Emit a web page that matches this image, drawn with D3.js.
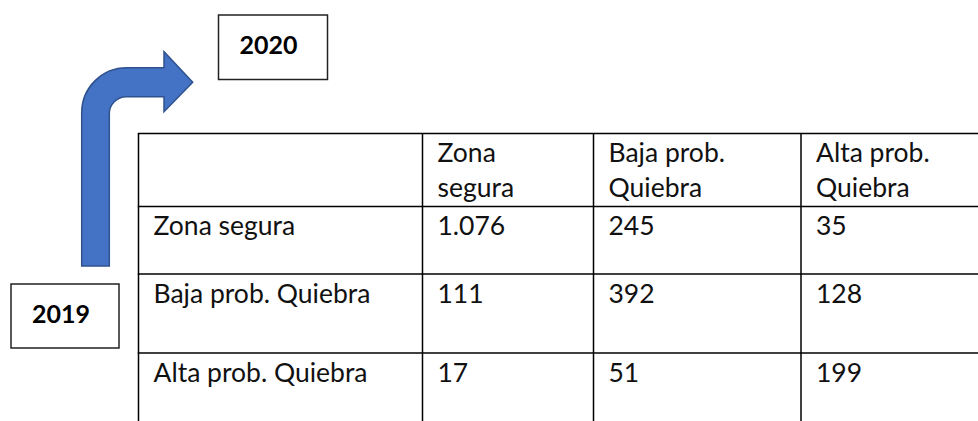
<!DOCTYPE html>
<html>
<head>
  <meta charset='utf-8'>
  <title>Matriz de transicion 2019-2020</title>
  <script src="https://cdnjs.cloudflare.com/ajax/libs/d3/7.8.5/d3.min.js"></script>
  <style>
    html, body { margin: 0; padding: 0; background: #fff; }
    svg { display: block; font-family: Lato, 'Open Sans', sans-serif; }
  </style>
</head>
<body>
<script>
// data
var fromYear = '2019';
var toYear = '2020';
var colHeaders = [['Zona', 'segura'], ['Baja prob.', 'Quiebra'], ['Alta prob.', 'Quiebra']];
var rowLabels = ['Zona segura', 'Baja prob. Quiebra', 'Alta prob. Quiebra'];
var zonaSegura = [1076, 245, 35];
var bajaProb = [111, 392, 128];
var altaProb = [17, 51, 199];
var values = [zonaSegura, bajaProb, altaProb];

var width = 978, height = 421;
var fontSize = 26.5, boldSize = 25;

// spanish number format, 1076 -> 1.076
var es = d3.formatLocale({ decimal: ',', thousands: '.', grouping: [3], currency: ['', ' €'] });
var fmt = es.format(',d');

// table layout: column and row edges
var colEdges = [138.5, 422.5, 593.5, 801, 980];
var rowEdges = [133.5, 206.5, 274, 353, 425];

var x = d3.scaleOrdinal().domain(d3.range(4)).range(colEdges.slice(0, 4));
var y = d3.scaleOrdinal().domain(d3.range(4)).range(rowEdges.slice(0, 4));

var svg = d3.select('body').append('svg')
    .attr('width', width)
    .attr('height', height);

// grid lines
var grid = svg.append('g')
    .attr('stroke', '#000')
    .attr('stroke-width', 1.5);

grid.selectAll('.h')
    .data(rowEdges.slice(0, 4))
    .enter().append('line')
    .attr('x1', colEdges[0] - 0.75).attr('x2', width + 2)
    .attr('y1', d => d).attr('y2', d => d);

grid.selectAll('.v')
    .data(colEdges.slice(0, 4))
    .enter().append('line')
    .attr('x1', d => d).attr('x2', d => d)
    .attr('y1', rowEdges[0]).attr('y2', height + 2);

var pad = 15, base = 28.5, lineGap = 35;

// header row
var head = svg.append('g').attr('font-size', fontSize).attr('fill', '#111');
head.selectAll('text')
    .data(colHeaders)
    .enter().append('text')
    .attr('x', (d, i) => x(i + 1) + pad)
    .attr('y', y(0) + base)
    .each(function (d) {
        var t = d3.select(this);
        d.forEach(function (s, k) {
            t.append('tspan')
                .attr('x', t.attr('x'))
                .attr('dy', k === 0 ? 0 : lineGap)
                .text(s);
        });
    });

// body rows
var rows = svg.append('g').attr('font-size', fontSize).attr('fill', '#111')
    .selectAll('g')
    .data(values)
    .enter().append('g');

rows.append('text')
    .attr('x', x(0) + pad)
    .attr('y', (d, i) => y(i + 1) + base)
    .text((d, i) => rowLabels[i]);

rows.each(function (row, i) {
    d3.select(this).selectAll('.val')
        .data(row)
        .enter().append('text')
        .attr('x', (v, j) => x(j + 1) + pad)
        .attr('y', y(i + 1) + base)
        .text(v => fmt(v));
});

// bent arrow, from 2019 up and over to 2020
var ax0 = 81.7, ax1 = 109.3, aBottom = 266;
var ayTop = 67.7, ayIn = 96.7;
var rOut = 45, rIn = 17;
var headX = 164, tipX = 192.7, headTop = 51.7, headBot = 111.7;
var p = d3.path();
p.moveTo(ax0, aBottom);
p.lineTo(ax0, ayTop + rOut);
p.arcTo(ax0, ayTop, ax0 + rOut, ayTop, rOut);
p.lineTo(headX, ayTop);
p.lineTo(headX, headTop);
p.lineTo(tipX, (ayTop + ayIn) / 2);
p.lineTo(headX, headBot);
p.lineTo(headX, ayIn);
p.lineTo(ax1 + rIn, ayIn);
p.arcTo(ax1, ayIn, ax1, ayIn + rIn, rIn);
p.lineTo(ax1, aBottom);
p.closePath();

svg.append('path')
    .attr('d', p.toString())
    .attr('fill', '#4472C4')
    .attr('stroke', '#2F528F')
    .attr('stroke-width', 1.5)
    .attr('stroke-linejoin', 'miter');

// year boxes
var boxes = [
    { label: toYear, x: 218.5, y: 15, w: 109, h: 64.5 },
    { label: fromYear, x: 11, y: 284, w: 108, h: 64 }
];

var box = svg.selectAll('.box')
    .data(boxes)
    .enter().append('g')
    .attr('class', 'box');

box.append('rect')
    .attr('x', d => d.x).attr('y', d => d.y)
    .attr('width', d => d.w).attr('height', d => d.h)
    .attr('fill', '#fff')
    .attr('stroke', '#222')
    .attr('stroke-width', 1.5);

box.append('text')
    .attr('x', d => d.x + 21)
    .attr('y', d => d.y + 39)
    .attr('font-size', boldSize)
    .attr('font-weight', 'bold')
    .attr('fill', '#000')
    .text(d => d.label);
</script>
</body>
</html>
